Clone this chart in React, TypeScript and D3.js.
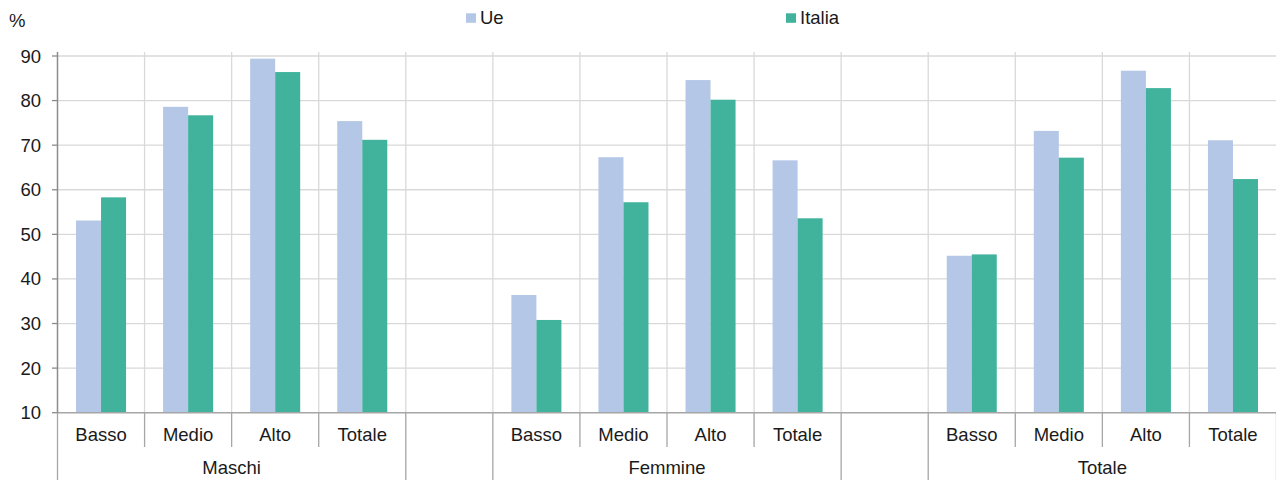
import React from "react";
import * as d3 from "d3";

const groups = ["Maschi", "Femmine", "Totale"];
const levels = ["Basso", "Medio", "Alto", "Totale"];
const seriesNames = ["Ue", "Italia"];
const seriesColors = ["#B4C7E7", "#41B39C"];
const ueValues = [53.1, 78.6, 89.4, 75.4, 36.4, 67.3, 84.6, 66.6, 45.2, 73.2, 86.7, 71.1];
const italiaValues = [58.3, 76.7, 86.4, 71.2, 30.8, 57.2, 80.2, 53.6, 45.5, 67.2, 82.8, 62.4];
const yTicks = [10, 20, 30, 40, 50, 60, 70, 80, 90];

const W = 1276;
const H = 480;
const FONT = "'Liberation Sans', Arial, sans-serif";
const FS = 18.5;

type Row = { key: string; group: string; level: string; ue: number; italia: number };

// slots: 4 levels per group + 1 blank slot between groups
const slotKeys: string[] = [];
const rows: Row[] = [];
groups.forEach((g, gi) => {
  levels.forEach((l, li) => {
    const key = `${g}-${l}`;
    slotKeys.push(key);
    rows.push({ key, group: g, level: l, ue: ueValues[gi * 4 + li], italia: italiaValues[gi * 4 + li] });
  });
  if (gi < groups.length - 1) slotKeys.push(`blank-${gi}`);
});

export default function App() {
  const x = d3.scaleBand<string>().domain(slotKeys).range([57.5, 1276.5]).padding(0);
  const step = x.step();
  const xs = d3.scaleBand<string>().domain(seriesNames).range([0, step]).paddingInner(0).paddingOuter(0.74);
  const y = d3.scaleLinear().domain([10, 90]).range([412.7, 56]);
  const x0 = x.range()[0];
  const boundaries = d3.range(0, slotKeys.length + 1).map((i) => x0 + i * step);
  const groupStartIdx = groups.map((_, gi) => gi * 5);
  const isGroupEdge = (i: number) =>
    groupStartIdx.includes(i) || groupStartIdx.map((s) => s + 4).includes(i);

  return (
    <svg width={W} height={H} style={{ position: "absolute", left: 0, top: 0, background: "#fff" }} fontFamily={FONT}>
      <rect x={0} y={0} width={W} height={H} fill="#fff" />
      {/* horizontal gridlines */}
      {yTicks.slice(1).map((t) => (
        <line key={`h${t}`} x1={x0} x2={W} y1={y(t)} y2={y(t)} stroke="#D9D9D9" strokeWidth={1.3} />
      ))}
      {/* vertical gridlines */}
      {boundaries.slice(1, slotKeys.length).map((bx, i) => (
        <line key={`v${i}`} x1={bx} x2={bx} y1={52} y2={y(10)} stroke="#D9D9D9" strokeWidth={1.3} />
      ))}
      {/* bars */}
      {rows.map((r) => {
        const sx = x(r.key)!;
        return (
          <g key={r.key}>
            {seriesNames.map((s, si) => {
              const v = si === 0 ? r.ue : r.italia;
              return (
                <rect
                  key={s}
                  x={sx + xs(s)!}
                  y={y(v)}
                  width={xs.bandwidth()}
                  height={y(10) - y(v)}
                  fill={seriesColors[si]}
                />
              );
            })}
          </g>
        );
      })}
      {/* x axis line */}
      <line x1={x0} x2={W} y1={y(10)} y2={y(10)} stroke="#A6A6A6" strokeWidth={1.5} />
      {/* category separators */}
      {boundaries.map((bx, i) => (
        <line
          key={`s${i}`}
          x1={bx}
          x2={bx}
          y1={y(10)}
          y2={isGroupEdge(i) ? H : 447}
          stroke="#A6A6A6"
          strokeWidth={1.3}
        />
      ))}
      {/* y axis */}
      <line x1={x0} x2={x0} y1={52} y2={y(10)} stroke="#8C8C8C" strokeWidth={1.5} />
      {yTicks.map((t) => (
        <g key={`t${t}`}>
          <line x1={52} x2={x0} y1={y(t)} y2={y(t)} stroke="#8C8C8C" strokeWidth={1.3} />
          <text x={41} y={y(t) + 6.5} textAnchor="end" fontSize={FS} fill="#1A1A1A">
            {t}
          </text>
        </g>
      ))}
      <text x={9} y={26.5} fontSize={FS} fill="#1A1A1A">%</text>
      {/* category labels */}
      {rows.map((r) => (
        <text key={`c${r.key}`} x={x(r.key)! + step / 2} y={441} textAnchor="middle" fontSize={FS} fill="#1A1A1A">
          {r.level}
        </text>
      ))}
      {/* group labels */}
      {groups.map((g, gi) => (
        <text key={`g${g}`} x={x0 + (gi * 5 + 2) * step} y={474} textAnchor="middle" fontSize={FS} fill="#1A1A1A">
          {g}
        </text>
      ))}
      {/* legend */}
      {seriesNames.map((s, si) => {
        const lx = si === 0 ? 466 : 786;
        return (
          <g key={`l${s}`}>
            <rect x={lx} y={13.3} width={10} height={9.5} fill={seriesColors[si]} />
            <text x={lx + 14} y={24} fontSize={FS} fill="#1A1A1A">
              {s}
            </text>
          </g>
        );
      })}
    </svg>
  );
}
